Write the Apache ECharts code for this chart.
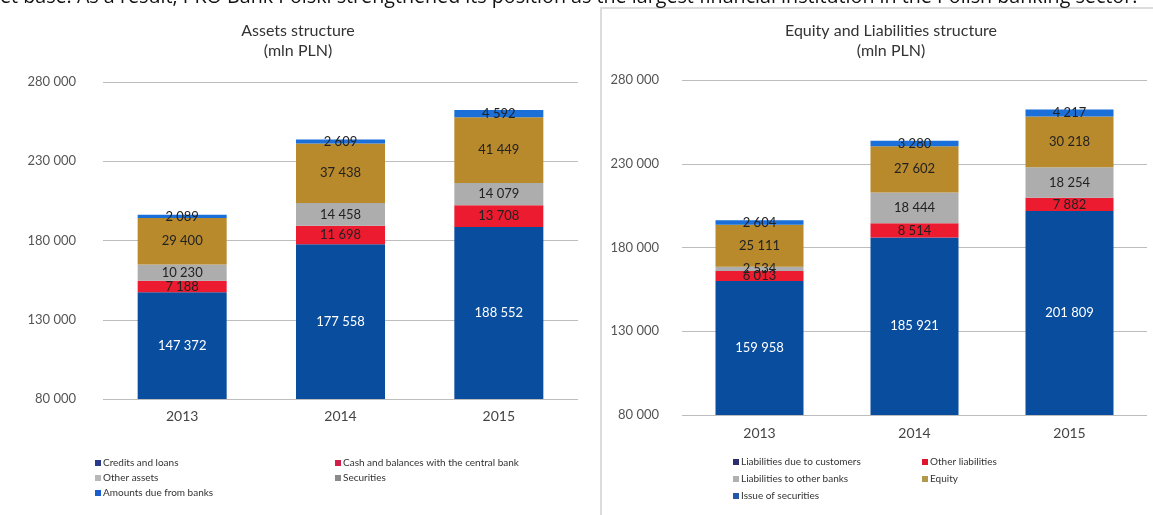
<!DOCTYPE html>
<html>
<head>
<meta charset="utf-8">
<script src="https://cdn.jsdelivr.net/npm/echarts@6/dist/echarts.min.js"></script>
<style>
  html, body { margin: 0; padding: 0; background: #fff; }
  #chart { width: 1153px; height: 515px; }
</style>
</head>
<body>
<div id="chart"></div>
<script>
const years = ["2013", "2014", "2015"];

// Assets structure (mln PLN)
const creditsAndLoans = [147372, 177558, 188552];
const cashCentralBank = [7188, 11698, 13708];
const otherAssets = [10230, 14458, 14079];
const securities = [29400, 37438, 41449];
const dueFromBanks = [2089, 2609, 4592];

// Equity and liabilities structure (mln PLN)
const dueToCustomers = [159958, 185921, 201809];
const otherLiabilities = [6013, 8514, 7882];
const toOtherBanks = [2534, 18444, 18254];
const equity = [25111, 27602, 30218];
const issueOfSecurities = [2604, 3280, 4217];

const yMin = 80000;
const yMax = 280000;
const yStep = 50000;

const FONT = "Lato, 'Open Sans', sans-serif";
const fmt = (v) => String(v).replace(/\B(?=(\d{3})+(?!\d))/g, " ");

const C_BLUE = "#084d9e";
const C_RED = "#ec1b30";
const C_GREY = "#adadad";
const C_GOLD = "#b98a2c";
const C_TOP = "#1b6fd8";

const chart = echarts.init(document.getElementById("chart"));

const yAxisBase = (gridIndex, margin) => ({
  type: "value",
  gridIndex,
  min: yMin,
  max: yMax,
  interval: yStep,
  axisLine: { show: false },
  axisTick: { show: false },
  splitLine: { lineStyle: { color: "#bdbdbd", width: 1 } },
  axisLabel: {
    color: "#555",
    fontSize: 13,
    fontFamily: FONT,
    margin,
    formatter: fmt,
  },
});

const xAxisBase = (gridIndex, margin) => ({
  type: "category",
  gridIndex,
  data: years,
  axisLine: { show: false },
  axisTick: { show: false },
  axisLabel: { color: "#444", fontSize: 14, fontFamily: FONT, margin },
});

const makeSeries = (name, data, color, idx, stack, labelColor, width) => ({
  name,
  type: "bar",
  stack,
  xAxisIndex: idx,
  yAxisIndex: idx,
  barWidth: width,
  data,
  itemStyle: { color },
  label: {
    show: true,
    position: "inside",
    color: labelColor,
    fontSize: 13,
    fontFamily: FONT,
    formatter: (p) => fmt(p.value),
  },
  emphasis: { disabled: true },
});

const legendBase = (left, top, gap, items) => ({
  orient: "vertical",
  left,
  top,
  itemWidth: 6,
  itemHeight: 6,
  itemGap: gap,
  icon: "rect",
  textStyle: { fontSize: 10, color: "#333", fontFamily: FONT, padding: [0, 0, 0, -3] },
  data: items.map(([name, color]) => ({ name, itemStyle: { color } })),
});

const option = {
  animation: false,
  graphic: [
    {
      type: "text",
      left: 0,
      top: -13,
      style: {
        text: "et base. As a result, PKO Bank Polski strengthened its position as the largest financial institution in the Polish banking sector.",
        fontSize: 19.7,
        fontFamily: "'Open Sans', sans-serif",
        fill: "#111",
      },
    },
    {
      type: "rect",
      shape: { x: 601, y: 8, width: 570, height: 530 },
      style: { fill: "none", stroke: "#dcdcdc", lineWidth: 2 },
      z: -1,
    },
  ],
  title: [
    {
      text: "Assets structure\n(mln PLN)",
      left: 293,
      top: 16,
      textAlign: "center",
      textStyle: { fontSize: 16, fontWeight: "normal", color: "#333", fontFamily: FONT, lineHeight: 20 },
    },
    {
      text: "Equity and Liabilities structure\n(mln PLN)",
      left: 886,
      top: 16,
      textAlign: "center",
      textStyle: { fontSize: 16, fontWeight: "normal", color: "#333", fontFamily: FONT, lineHeight: 20 },
    },
  ],
  legend: [
    legendBase(90, 453, 5, [
      ["Credits and loans", "#2a3a8a"],
      ["Other assets", "#b8b8b8"],
      ["Amounts due from banks", "#1a5fcc"],
    ]),
    legendBase(330, 453, 5, [
      ["Cash and balances with the central bank", "#d21f4a"],
      ["Securities", "#8a8a8a"],
    ]),
    legendBase(728, 452, 7, [
      ["Liabilities due to customers", "#2b2d6e"],
      ["Liabilities to other banks", "#b0b0b0"],
      ["Issue of securities", "#2357a8"],
    ]),
    legendBase(917, 452, 7, [
      ["Other liabilities", "#e2142d"],
      ["Equity", "#b39a4a"],
    ]),
  ],
  grid: [
    { left: 103, right: 1153 - 578, top: 82, bottom: 515 - 399 },
    { left: 682, right: 6, top: 80, bottom: 515 - 415 },
  ],
  xAxis: [xAxisBase(0, 10), xAxisBase(1, 11)],
  yAxis: [yAxisBase(0, 27), yAxisBase(1, 23)],
  series: [
    makeSeries("Credits and loans", creditsAndLoans, C_BLUE, 0, "a", "#fff", 89),
    makeSeries("Cash and balances with the central bank", cashCentralBank, C_RED, 0, "a", "#222", 89),
    makeSeries("Other assets", otherAssets, C_GREY, 0, "a", "#222", 89),
    makeSeries("Securities", securities, C_GOLD, 0, "a", "#222", 89),
    makeSeries("Amounts due from banks", dueFromBanks, C_TOP, 0, "a", "#222", 89),
    makeSeries("Liabilities due to customers", dueToCustomers, C_BLUE, 1, "b", "#fff", 88),
    makeSeries("Other liabilities", otherLiabilities, C_RED, 1, "b", "#222", 88),
    makeSeries("Liabilities to other banks", toOtherBanks, C_GREY, 1, "b", "#222", 88),
    makeSeries("Equity", equity, C_GOLD, 1, "b", "#222", 88),
    makeSeries("Issue of securities", issueOfSecurities, C_TOP, 1, "b", "#222", 88),
  ],
};

chart.setOption(option);
</script>
</body>
</html>
